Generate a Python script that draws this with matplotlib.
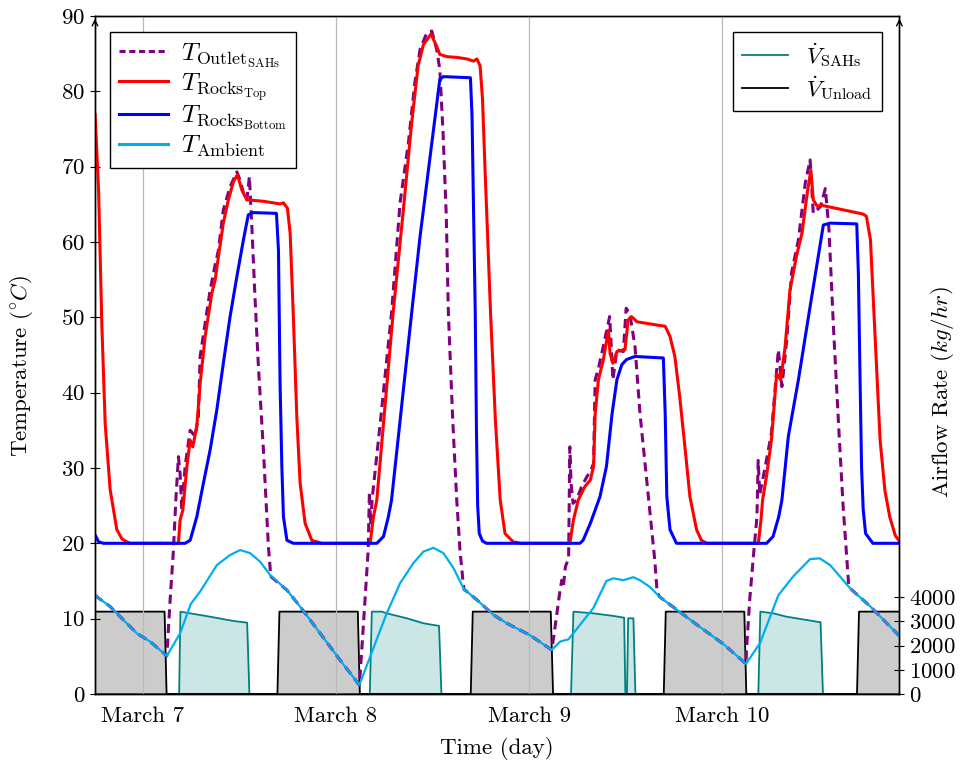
import numpy as np
import matplotlib.pyplot as plt
from matplotlib.lines import Line2D

plt.rcParams['font.family'] = 'serif'
plt.rcParams['font.serif'] = ['cmr10']
plt.rcParams['mathtext.fontset'] = 'cm'
plt.rcParams['axes.formatter.use_mathtext'] = True

# time in hours from March 7 00:00
day_ticks = [0, 24, 48, 72]
day_labels = ['March 7', 'March 8', 'March 9', 'March 10']

# unloading airflow (kg/hr)
unload_t = [-5.95, 2.7, 2.95, 16.72, 16.97, 26.71, 26.96, 40.74, 40.99, 50.68, 50.97,
            64.72, 64.97, 74.73, 74.98, 88.73, 88.98, 94.0]
unload_v = [3400, 3400, 0, 0, 3400, 3400, 0, 0, 3400, 3400, 0,
            0, 3400, 3400, 0, 0, 3400, 3400]

# solar air heater airflow (kg/hr)
sahs_t = [-5.95, 4.51, 4.67, 5.88, 8.36, 11.25, 12.96, 13.24,
          28.2, 28.45, 29.7, 30.3, 32.8, 34.86, 36.8, 37.1,
          53.2, 53.5, 56.0, 58.5, 59.8, 59.95, 60.15, 60.3, 60.95, 61.2,
          76.47, 76.72, 78.33, 80.0, 84.2, 84.5, 94.0]
sahs_v = [0, 0, 3400, 3330, 3190, 3015, 2945, 0,
          0, 3400, 3400, 3330, 3125, 2920, 2810, 0,
          0, 3400, 3330, 3220, 3150, 0, 0, 3125, 3125, 0,
          0, 3400, 3330, 3190, 2960, 0, 0]

# ambient temperature
amb_t = [-5.96, -4.06, -0.75, 0.91, 2.98, 4.63, 5.96, 7.12, 9.19, 10.84, 12.09, 13.33,
         14.57, 15.81, 17.89, 19.54, 22.03, 24.5, 26.9, 28.24, 30.3, 31.96, 33.6, 34.86,
         36.1, 37.34, 38.6, 39.9, 41.5, 43.55, 45.2, 48.1, 50.8, 51.84, 52.87, 54.3,
         55.97, 57.6, 58.46, 59.7, 60.94, 61.76, 63.0, 64.2, 66.7, 69.2, 72.1, 74.94,
         76.68, 78.96, 80.8, 82.9, 84.1, 85.4, 87.9, 90.4, 94.0]
amb_T = [13.1, 11.6, 8.05, 6.95, 5.05, 8.05, 11.95, 13.6, 17.1, 18.45, 19.1, 18.7,
         17.55, 15.8, 13.8, 11.6, 8.05, 4.5, 1.2, 4.95, 10.7, 14.7, 17.35, 18.9,
         19.4, 18.7, 16.7, 13.9, 12.5, 10.5, 9.4, 7.8, 5.85, 6.95, 7.25, 9.15,
         11.4, 15.0, 15.35, 15.1, 15.5, 15.1, 14.2, 12.9, 10.9, 8.9, 6.65, 4.0,
         6.75, 13.1, 15.6, 17.9, 18.0, 17.1, 14.0, 11.6, 7.7]

# outlet temperature of the air heaters while they run (follows ambient otherwise)
outlet_windows = [(2.98, 15.9), (26.9, 39.9), (50.8, 63.9), (74.94, 87.7)]
outlet_day_t = [3.39, 3.8, 4.1, 4.42, 4.63, 4.84, 5.25, 5.88, 6.5, 6.9, 7.12, 7.74, 8.36,
                8.98, 9.39, 10.0, 10.84, 11.68, 12.09, 12.5, 12.92, 13.24, 13.54, 13.95,
                14.36, 14.98, 15.6, 15.9,
                27.2, 27.6, 28.0, 28.15, 28.3, 28.5, 29.5, 30.9, 31.96, 33.0, 33.8, 34.45,
                35.3, 35.9, 36.5, 36.9, 37.3, 37.7, 37.96, 38.5, 39.0, 39.4, 39.8,
                51.0, 51.4, 51.84, 52.05, 52.25, 52.5, 52.9, 53.05, 53.2, 53.45, 53.9,
                54.5, 55.2, 55.6, 56.0, 56.2, 56.6, 57.2, 58.0, 58.2, 58.4, 58.9, 59.7,
                60.05, 60.5, 61.15, 61.77, 62.6, 63.6, 63.9,
                75.0, 75.4, 75.85, 76.3, 76.45, 76.65, 77.3, 78.1, 78.96, 79.4, 80.0,
                80.6, 81.45, 82.3, 82.9, 83.3, 84.2, 84.8, 85.25, 85.8, 86.5, 87.0, 87.7]
outlet_day_T = [12.5, 19.1, 25.75, 31.5, 29.3, 24.4, 30.2, 35.0, 34.2, 36.8, 44.8, 49.2, 53.6,
                56.95, 58.9, 64.25, 67.35, 69.3, 68.2, 66.5, 65.6, 68.7, 62.1, 52.3,
                43.45, 32.4, 19.55, 15.6,
                5.84, 12.5, 19.1, 26.8, 22.5, 26.0, 36.0, 50.6, 65.2, 73.2, 81.2, 85.6,
                87.8, 88.0, 85.6, 82.9, 74.5, 63.45, 50.6, 36.4, 25.75, 19.1, 14.7,
                7.2, 10.3, 13.8, 15.1, 14.2, 16.9, 18.0, 32.8, 28.0, 25.3, 25.75,
                27.5, 28.9, 29.5, 30.6, 41.7, 43.2, 46.1, 50.1, 46.1, 41.7, 45.7, 45.45,
                51.2, 50.5, 46.1, 37.2, 28.4, 17.8, 13.5,
                5.84, 12.5, 18.2, 23.5, 31.0, 26.5, 30.0, 34.6, 45.7, 40.8, 47.0,
                55.9, 60.3, 67.8, 70.9, 63.8, 64.7, 67.1, 61.6, 48.8, 34.6, 25.0, 14.4]

# rocks top temperature
top_t = [-5.93, -5.5, -5.1, -4.68, -4.06, -3.23, -2.6, -2.0, -1.58, 4.42, 4.63, 4.97, 5.47,
         5.88, 6.2, 6.7, 7.12, 7.74, 8.57, 8.98, 9.39, 10.0, 10.63, 11.25, 11.75, 12.3,
         12.92, 14.98, 17.05, 17.47, 17.96, 18.3, 18.7, 19.13, 19.54, 20.16, 20.99, 22.2,
         28.24, 28.65, 29.07, 31.1, 32.37, 33.4, 34.2, 34.86, 35.8, 36.5, 36.9, 37.77,
         39.0, 40.25, 41.1, 41.5, 41.9, 42.2, 42.5, 42.9, 43.2, 43.8, 44.4, 45.0, 46.0, 47.0,
         53.05, 53.5, 54.1, 54.9, 55.6, 56.0, 56.2, 56.6, 57.2, 57.84, 58.05, 58.4, 58.9,
         59.9, 60.3, 60.7, 61.4, 64.9, 65.5, 66.1, 66.7, 67.35, 67.97, 68.8, 69.4, 70.06,
         76.47, 76.8, 77.0, 77.5, 78.1, 78.75, 79.25, 79.8, 80.4, 81.2, 81.9, 82.6, 83.0,
         83.3, 83.8, 84.2, 89.5, 89.9, 90.4, 90.8, 91.2, 91.6, 92.2, 92.8, 93.5, 94.0]
top_T = [76.9, 66.9, 49.2, 35.9, 27.1, 21.8, 20.6, 20.2, 20.0, 20.0, 23.1, 24.4, 30.2,
         33.7, 32.8, 35.5, 41.2, 47.45, 53.2, 54.95, 58.05, 62.5, 65.6, 68.0, 68.9, 66.9,
         65.6, 65.4, 65.05, 65.2, 64.5, 61.2, 50.1, 36.8, 28.0, 22.65, 20.4, 20.0,
         20.0, 23.5, 25.75, 50.6, 64.3, 75.8, 83.4, 86.2, 87.6, 86.0, 84.9, 84.6,
         84.5, 84.3, 84.0, 84.3, 83.4, 79.0, 70.1, 59.0, 50.6, 36.4, 25.75, 21.3, 20.2, 20.0,
         20.0, 23.1, 25.75, 27.5, 28.4, 30.2, 37.2, 41.7, 44.3, 48.3, 45.2, 43.9, 45.45,
         45.7, 49.65, 50.1, 49.4, 48.8, 47.45, 44.8, 39.5, 32.8, 26.2, 21.8, 20.4, 20.0,
         20.0, 23.1, 25.75, 29.0, 33.7, 42.55, 41.7, 46.1, 53.6, 58.05, 61.2, 66.9, 69.5,
         65.6, 64.7, 64.9, 63.7, 63.4, 60.3, 51.4, 42.55, 33.7, 27.0, 23.5, 21.0, 20.3]

# rocks bottom temperature
bot_t = [-5.93, -5.5, -4.9, 5.25, 5.88, 6.7, 7.53, 8.36, 9.19, 10.0, 10.84, 11.68, 12.5,
         13.1, 13.7, 16.6, 16.85, 17.05, 17.27, 17.47, 17.9, 18.7,
         29.07, 29.9, 30.5, 30.9, 33.4, 34.45, 35.7, 36.9, 37.34, 40.7, 40.9, 41.1, 41.3,
         41.45, 41.6, 41.8, 42.2, 42.7,
         54.3, 54.7, 55.6, 56.8, 57.6, 58.3, 58.9, 59.5, 60.1, 61.15, 64.67, 64.9, 65.1,
         65.5, 66.3,
         77.5, 78.3, 79.0, 79.4, 80.2, 81.45, 82.9, 84.55, 85.4, 88.7, 88.9, 89.1, 89.3,
         89.5, 89.8, 90.7, 94.0]
bot_T = [21.1, 20.2, 20.0, 20.0, 20.4, 23.5, 28.0, 32.4, 37.7, 43.9, 50.1, 55.4, 60.3,
         63.6, 63.9, 63.8, 58.9, 41.2, 30.2, 23.5, 20.4, 20.0,
         20.0, 20.9, 23.5, 25.75, 50.6, 60.8, 71.4, 81.6, 81.95, 81.8, 76.7, 63.45, 50.6,
         35.0, 25.0, 21.3, 20.3, 20.0,
         20.0, 20.4, 22.65, 26.2, 30.2, 37.2, 41.7, 43.7, 44.4, 44.8, 44.6, 37.2, 26.2,
         21.8, 20.0,
         20.0, 20.9, 23.5, 25.75, 34.2, 41.7, 51.4, 62.25, 62.5, 62.4, 55.85, 42.55, 30.0,
         24.5, 21.3, 20.0, 20.0]

# build the full outlet series: ambient at night, measured values during the day
amb_t_arr = np.array(amb_t)
amb_T_arr = np.array(amb_T)
night = np.ones(len(amb_t_arr), dtype=bool)
for a, b in outlet_windows:
    night &= ~((amb_t_arr > a) & (amb_t_arr < b))
out_t = np.concatenate([amb_t_arr[night], outlet_day_t])
out_T = np.concatenate([amb_T_arr[night], outlet_day_T])
order = np.argsort(out_t)
out_t, out_T = out_t[order], out_T[order]

fig = plt.figure(figsize=(9.64, 7.68), dpi=100)
ax = fig.add_axes([0.0985, 0.0964, 0.8345, 0.8828])
ax2 = ax.twinx()
ax.set_zorder(ax2.get_zorder() + 1)
ax.patch.set_visible(False)

ax2.fill_between(unload_t, unload_v, color='#cccccc', lw=0)
ax2.fill_between(sahs_t, sahs_v, color='#cce6e6', lw=0)
ax2.plot(sahs_t, sahs_v, color='#008080', lw=1.3)
ax2.plot(unload_t, unload_v, color='black', lw=1.3)

ax.plot(out_t, out_T, color='#800080', lw=2.2, dashes=(3, 1.8))
ax.plot(top_t, top_T, color='red', lw=2.2)
ax.plot(bot_t, bot_T, color='blue', lw=2.2)
ax.plot(amb_t, amb_T, color='#00aeef', lw=1.6)

xmin, xmax = -5.95, 94.0
ax.set_xlim(xmin, xmax)
ax.set_ylim(0, 90)
ax.set_yticks(range(0, 91, 10))
ax2.set_ylim(0, 28000)
ax2.set_yticks([0, 1000, 2000, 3000, 4000])
ax.set_xticks(day_ticks)
ax.set_xticklabels(day_labels)
ax.grid(axis='x', color='#b8b8b8', lw=0.9)

fs = 16.5
ax.tick_params(axis='x', length=0, pad=9, labelsize=fs)
ax.tick_params(axis='y', direction='inout', length=7, labelsize=fs)
ax2.tick_params(axis='y', direction='inout', length=7, labelsize=fs)
ax.set_xlabel('Time (day)', fontsize=fs, labelpad=8)
ax.set_ylabel(r'Temperature $(^{\circ}C)$', fontsize=fs)
ax2.set_ylabel(r'Airflow Rate $(kg/hr)$', fontsize=fs)
ax.yaxis.set_label_coords(-0.074, 0.484)
ax2.yaxis.set_label_coords(1.037, 0.445)

for a in (ax, ax2):
    for s in a.spines.values():
        s.set_linewidth(1.0)
for x in (0, 1):
    ax.annotate('', xy=(x, 1.0), xytext=(x, 0.985), xycoords='axes fraction',
                arrowprops=dict(arrowstyle='->', lw=1.0, color='black'))

leg1 = ax.legend(
    [Line2D([], [], color='#800080', lw=2.2, dashes=(2, 1.2)),
     Line2D([], [], color='red', lw=2.2),
     Line2D([], [], color='blue', lw=2.2),
     Line2D([], [], color='#00aeef', lw=2.2)],
    [r'$T_{\mathrm{Outlet}_{\mathrm{SAHs}}}$', r'$T_{\mathrm{Rocks}_{\mathrm{Top}}}$',
     r'$T_{\mathrm{Rocks}_{\mathrm{Bottom}}}$', r'$T_{\mathrm{Ambient}}$'],
    loc='upper left', bbox_to_anchor=(0.0186, 0.976), borderaxespad=0,
    fontsize=18.5, fancybox=False, edgecolor='black', framealpha=1,
    labelspacing=0.05, handlelength=1.9, handletextpad=0.5, borderpad=0.35)
leg1.get_frame().set_linewidth(1.0)
ax.add_artist(leg1)

leg2 = ax.legend(
    [Line2D([], [], color='#008080', lw=1.3), Line2D([], [], color='black', lw=1.3)],
    [r'$\dot{V}_{\mathrm{SAHs}}$', r'$\dot{V}_{\mathrm{Unload}}$'],
    loc='upper right', bbox_to_anchor=(0.978, 0.976), borderaxespad=0,
    fontsize=fs, fancybox=False, edgecolor='black', framealpha=1,
    labelspacing=0.2, handlelength=2.0, borderpad=0.4)
leg2.get_frame().set_linewidth(1.0)

fig.savefig('out.png', dpi=100)
